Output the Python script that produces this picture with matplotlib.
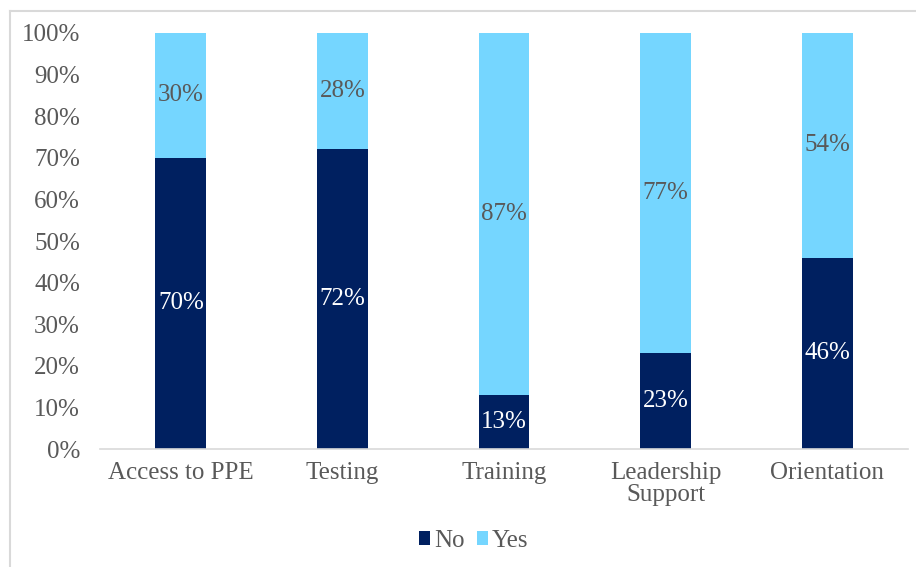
import matplotlib as m
m.use("Agg")
import matplotlib.pyplot as plt
from matplotlib.lines import Line2D
from matplotlib.ticker import PercentFormatter

categories = ["Access to PPE", "Testing", "Training", "Leadership\nSupport", "Orientation"]
no_vals = [70, 72, 13, 23, 46]
yes_vals = [30, 28, 87, 77, 54]

navy = "#002060"
light = "#75D6FF"
grey = "#595959"

plt.rcParams['font.family'] = ['Liberation Serif', 'DejaVu Serif']

fig = plt.figure(figsize=(9.16, 5.67), dpi=100)
ax = fig.add_axes([0.1092, 0.2081, 0.8821, 0.7337])

x = range(len(categories))
w = 0.315
ax.bar(x, no_vals, width=w, color=navy, label="No")
ax.bar(x, yes_vals, width=w, bottom=no_vals, color=light, label="Yes")

for i in x:
    ax.text(i, no_vals[i] / 2, f"{no_vals[i]}%", ha='center', va='center',
            color='white', fontsize=18)
    ax.text(i, no_vals[i] + yes_vals[i] / 2, f"{yes_vals[i]}%", ha='center', va='center',
            color=grey, fontsize=18)

ax.set_xlim(-0.5, len(categories) - 0.5)
ax.set_ylim(0, 100)
ax.set_yticks(range(0, 101, 10))
ax.yaxis.set_major_formatter(PercentFormatter(decimals=0))
ax.set_xticks(list(x))
ax.set_xticklabels(categories, linespacing=1.05)
ax.tick_params(axis='y', length=0, pad=14.5, labelsize=18, labelcolor=grey)
ax.tick_params(axis='x', length=0, pad=9, labelsize=18, labelcolor=grey)
for s in ['top', 'right', 'left']:
    ax.spines[s].set_visible(False)
ax.spines['bottom'].set_color('#D9D9D9')
ax.spines['bottom'].set_linewidth(1.2)

ax.legend(loc='center', bbox_to_anchor=(0.517, 0.046), bbox_transform=fig.transFigure,
          ncol=2, frameon=False, fontsize=18, labelcolor=grey,
          handlelength=0.45, handleheight=0.45, handletextpad=0.15, columnspacing=0.5)

# outer frame (top and left edges visible in the reference)
fig.add_artist(Line2D([0.0109, 0.0109], [0, 0.981], transform=fig.transFigure,
                      color='#D9D9D9', lw=1.5))
fig.add_artist(Line2D([0.0109, 1.0], [0.981, 0.981], transform=fig.transFigure,
                      color='#D9D9D9', lw=1.5))

fig.savefig("out.png", dpi=100)
